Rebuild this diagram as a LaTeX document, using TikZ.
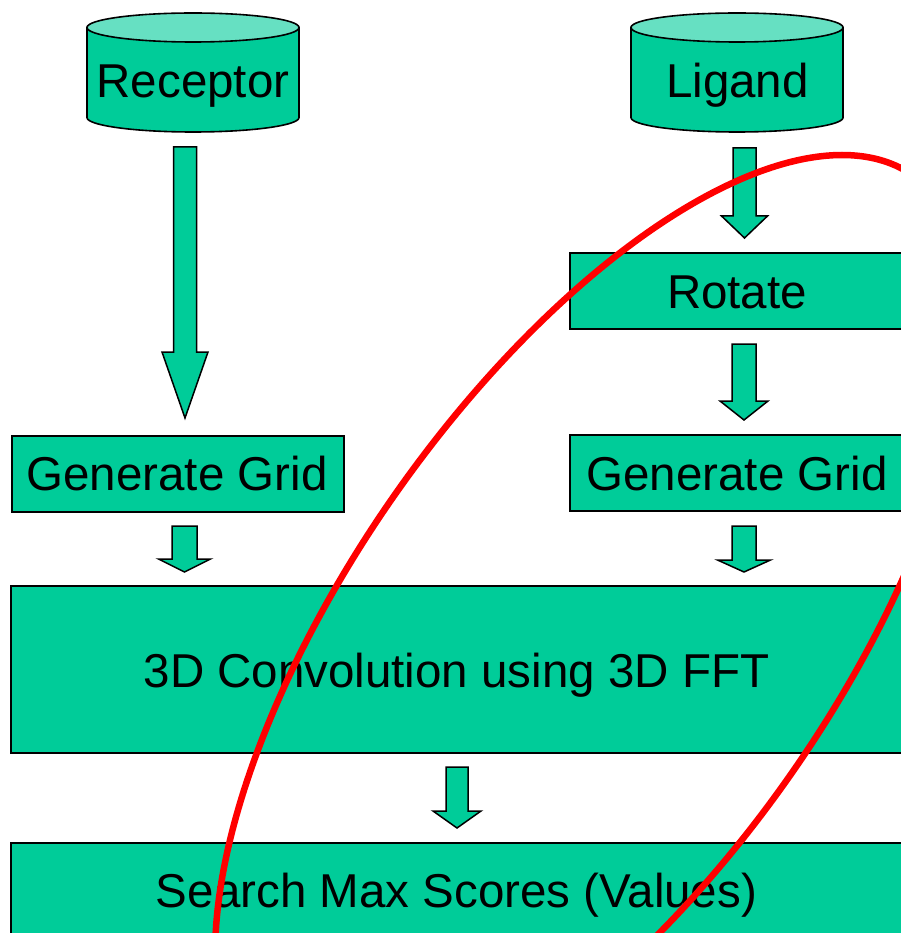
\documentclass[tikz,border=0pt]{standalone}
\usepackage{fontspec}
\setmainfont{Liberation Sans}
\definecolor{boxgreen}{RGB}{0,204,153}
\definecolor{toplight}{RGB}{102,224,194}
\tikzset{
  stage/.style={draw=black, line width=1.8pt, fill=boxgreen, inner sep=0pt,
    anchor=north west},
  caption/.style={inner sep=0pt, text height=34pt, text depth=0pt,
    font=\fontsize{47.5}{57}\selectfont},
  drumbody/.style={draw=black, line width=1.6pt, fill=boxgreen},
  drumtop/.style={draw=black, line width=1.6pt, fill=toplight},
  arrowshape/.style={draw=black, line width=1.5pt, fill=boxgreen, line join=miter},
  ring/.style={draw=red, line width=6.5pt, line join=round}
}
% block arrow pointing down: centre x, top y, head start y, tip y, half shaft, half head
\newcommand{\blockdown}[6]{%
  \filldraw[arrowshape] ({#1-#5},#2) -- ({#1+#5},#2) -- ({#1+#5},#3) -- ({#1+#6},#3)
    -- (#1,#4) -- ({#1-#6},#3) -- ({#1-#5},#3) -- cycle;}
% database drum: centre x
\newcommand{\drum}[1]{%
  \filldraw[drumbody] ({#1+106},27.5) -- ({#1+106},117.5)
    -- plot[domain=0:180, samples=61] ({#1+106*cos(\x)},{117.5+14.5*sin(\x)})
    -- ({#1-106},27.5) -- cycle;
  \filldraw[drumtop] (#1,27.5) ellipse [x radius=106, y radius=14.5];}
\begin{document}
\begin{tikzpicture}[x=1pt, y=-1pt]
  \useasboundingbox (0,0) rectangle (900,933);

  % input databases
  \drum{193}
  \drum{737}
  \node[caption] (rec) at (193,80.5) {Receptor};
  \node[caption] (lig) at (737.5,80.5) {Ligand};

  % processing stages; the right-hand ones run on past the page edge,
  % so their right sides are left open
  \node[stage, minimum width=332pt, minimum height=76pt] (gridL) at (11,435) {};
  \filldraw[stage] (920,253) -- (570,253) -- (570,329) -- (920,329);
  \coordinate (rot) at (570,253);
  \filldraw[stage] (920,435) -- (570,435) -- (570,511) -- (920,511);
  \coordinate (gridR) at (570,435);
  \filldraw[stage] (920,586) -- (11,586) -- (11,753) -- (920,753);
  \coordinate (conv) at (11,586);
  \filldraw[stage] (920,843) -- (11,843) -- (11,945) -- (920,945);
  \coordinate (search) at (11,843);

  \node[caption] (rotT) at (737,291) {Rotate};
  \node[caption] (gridLT) at (177,473) {Generate Grid};
  \node[caption] (gridRT) at (737,473) {Generate Grid};
  \node[caption] (convT) at (456.5,670.5) {3D Convolution using 3D FFT};
  \node[caption] (searchT) at (456.5,890) {Search Max Scores (Values)};

  % flow arrows
  \blockdown{185}{147}{352}{418}{11.5}{23}
  \blockdown{744.5}{148}{216}{238}{11.5}{23}
  \blockdown{744}{344}{401}{420}{12}{24}
  \blockdown{184.5}{526}{559}{572}{12.5}{26}
  \blockdown{744}{526}{560}{572}{12}{26.5}
  \blockdown{457}{767}{811}{828}{11}{24}

  % highlighted ligand branch
  \draw[ring] plot[domain=0:360, samples=361]
    ({592.5-249.6*sin(\x)+283*cos(\x)},{635+480*sin(\x)}) -- cycle;
\end{tikzpicture}
\end{document}
